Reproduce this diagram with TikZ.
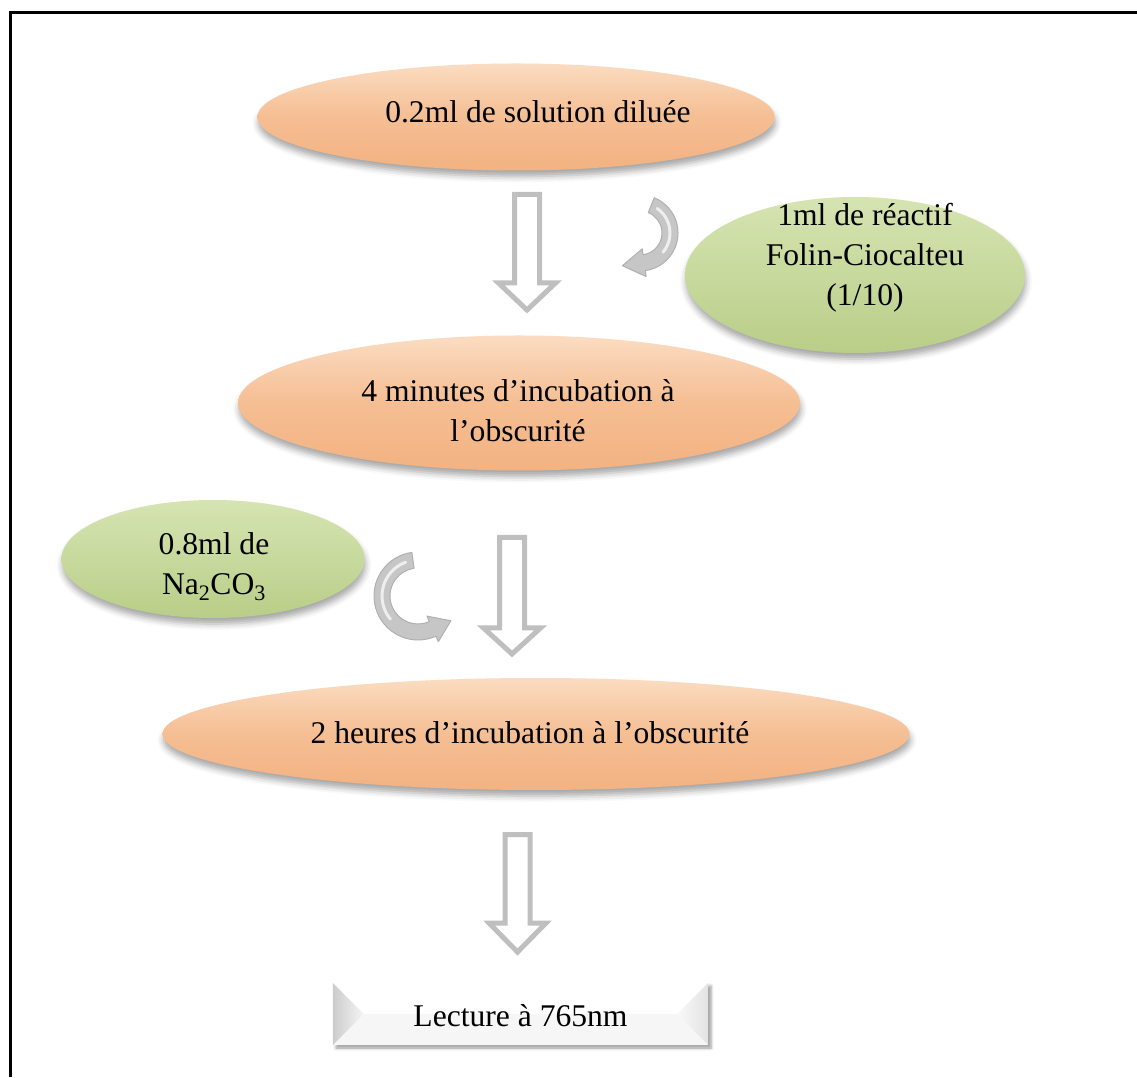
\documentclass[tikz,border=0pt]{standalone}
\usepackage{fontspec}
\setmainfont{Liberation Serif}
\usetikzlibrary{shapes.geometric,shadows.blur,calc}
\definecolor{orTop}{HTML}{FBDCC1}
\definecolor{orMid}{HTML}{F5BE93}
\definecolor{orBot}{HTML}{F3B281}
\definecolor{grTop}{HTML}{D6E4B2}
\definecolor{grBot}{HTML}{B9CE88}
\definecolor{arrGray}{HTML}{BFBFBF}
\definecolor{curvFill}{HTML}{C6C6C6}
\definecolor{curvLine}{HTML}{B0B0B0}
\newcommand\blockdown[4]{\draw[hollow] (#1-12.5,#2) -- (#1+12.5,#2) -- (#1+12.5,#3) -- (#1+28.5,#3) -- (#1,#4) -- (#1-28.5,#3) -- (#1-12.5,#3) -- cycle;}
\begin{document}
\begin{tikzpicture}[x=1pt,y=1pt,
  shadowed/.style={blur shadow={shadow xshift=1pt, shadow yshift=-6pt, shadow blur radius=6pt, shadow opacity=35}},
  oval/.style={ellipse, inner sep=0pt, draw=none, top color=orTop, bottom color=orBot, middle color=orMid, shadowed},
  greenoval/.style={ellipse, inner sep=0pt, draw=none, top color=grTop, bottom color=grBot, shadowed},
  txt/.style={font=\fontsize{31.6}{40}\selectfont, align=center, inner sep=0pt},
  hollow/.style={draw=arrGray, line width=5pt, fill=white, line join=miter},
  curved/.style={fill=curvFill, draw=curvLine, line width=1pt, line join=round},
  bevelbox/.style={rectangle, inner sep=0pt, fill=white, draw=none, blur shadow={shadow xshift=3pt, shadow yshift=-3pt, shadow blur radius=3pt, shadow opacity=40}}]
\useasboundingbox (0,0) rectangle (1137,1077);
% frame
\draw[line width=3pt] (10.5,0) -- (10.5,1064.5) -- (1137,1064.5);

% ellipses
\node[oval, minimum width=517pt, minimum height=107pt] (e1) at (516,960) {};
\node[txt] (t1) at (538,965) {0.2ml de solution diluée};

\node[greenoval, minimum width=340pt, minimum height=156pt] (g1) at (855,802) {};
\node[txt] (tg1) at (865,819) {1ml de réactif\\Folin-Ciocalteu\\(1/10)};

\node[oval, minimum width=562pt, minimum height=135pt] (e2) at (519,674) {};
\node[txt] (t2) at (518,666) {4 minutes d’incubation à\\l’obscurité};

\node[greenoval, minimum width=303pt, minimum height=118pt] (g2) at (213,518) {};
\node[txt] (tg2) at (214,510) {0.8ml de\\Na\textsubscript{2}CO\textsubscript{3}};

\node[oval, minimum width=747pt, minimum height=112pt] (e3) at (536,343) {};
\node[txt] (t3) at (530,344) {2 heures d’incubation à l’obscurité};

% bevel box
\node[bevelbox, minimum width=375pt, minimum height=62pt] (b) at (520.5,63) {};
\fill[gray!7] (b.south west) -- ($(b.west)+(31,0)$) -- ($(b.east)+(-31,0)$) -- (b.south east) -- cycle;
\shade[left color=gray!40, right color=gray!8] (b.north west) -- ($(b.west)+(31,0)$) -- (b.south west) -- cycle;
\shade[left color=gray!5, right color=gray!22] (b.north east) -- ($(b.east)+(-31,0)$) -- (b.south east) -- cycle;
\node[txt] (tb) at (520.5,61) {Lecture à 765nm};

% straight hollow arrows
\blockdown{527}{882.5}{794}{767}
\blockdown{512}{539.5}{449}{423}
\blockdown{517.5}{242.5}{154}{125}

% curved arrow near reagent
\coordinate (ca) at (640,844);
\filldraw[curved] ($(ca)+(68:38)$) arc[start angle=68, end angle=-82, radius=38]
  -- ($(ca)+(-82:44)$) -- ($(ca)+(-82:30)+(-172:22)$) -- ($(ca)+(-82:16)$)
  -- ($(ca)+(-82:22)$) arc[start angle=-82, end angle=68, radius=22] -- cycle;
\draw[white!70!curvFill, line width=3pt, line cap=round] ($(ca)+(55:30)$) arc[start angle=55, end angle=-40, radius=30];

% curved arrow near Na2CO3
\coordinate (cb) at (418,481);
\filldraw[curved] ($(cb)+(98:44)$) arc[start angle=98, end angle=294, radius=44]
  -- ($(cb)+(294:50)$) -- ($(cb)+(294:36)+(24:20)$) -- ($(cb)+(294:22)$)
  -- ($(cb)+(294:28)$) arc[start angle=294, end angle=98, radius=28] -- cycle;
\draw[white!70!curvFill, line width=3pt, line cap=round] ($(cb)+(110:36)$) arc[start angle=110, end angle=220, radius=36];
\end{tikzpicture}
\end{document}
